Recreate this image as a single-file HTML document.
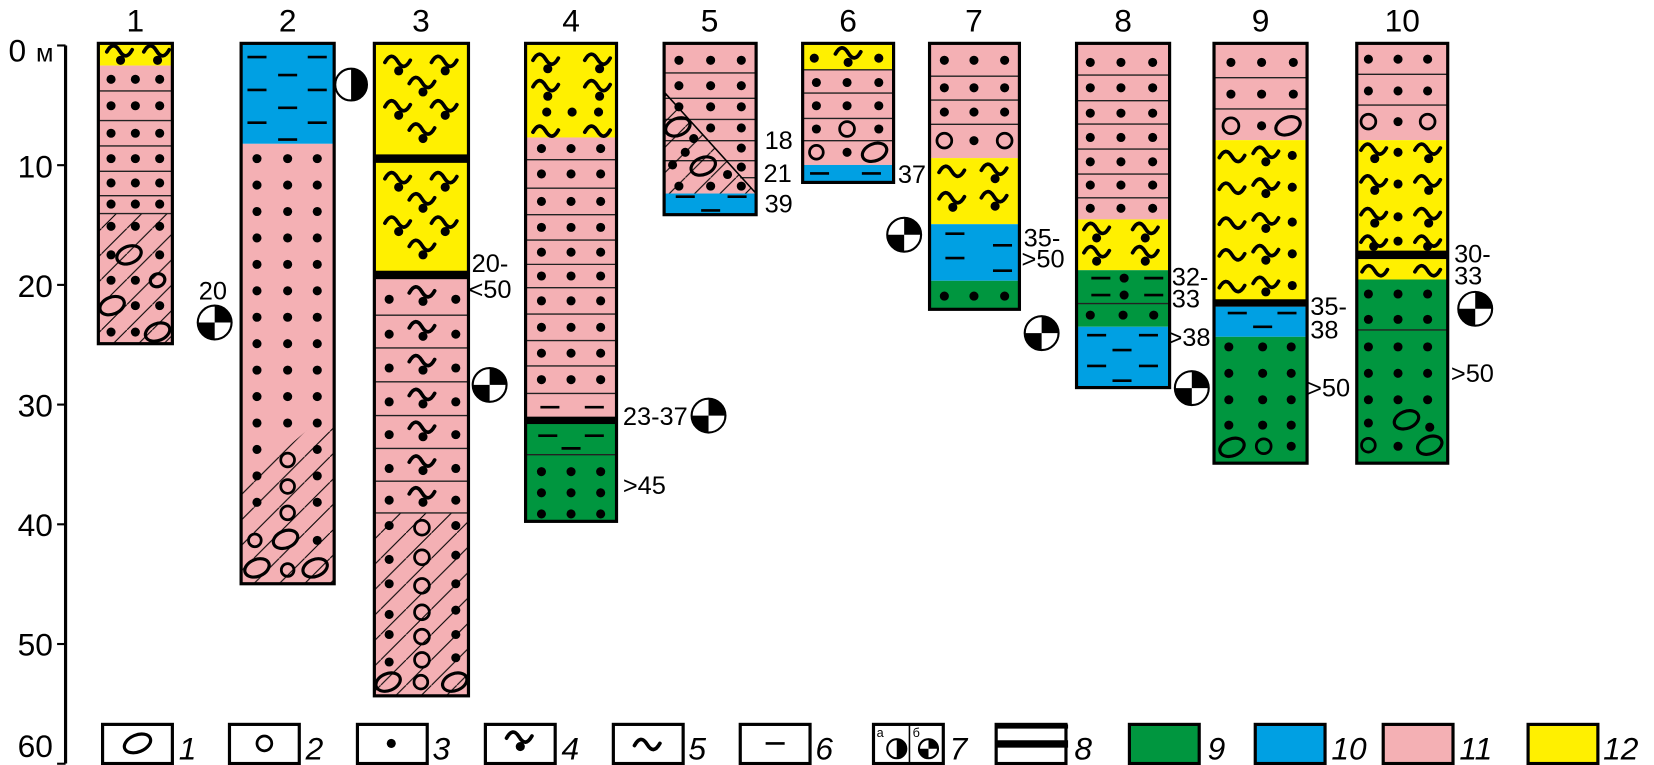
<!DOCTYPE html>
<html><head><meta charset="utf-8"><style>
html,body{margin:0;padding:0;background:#fff;width:1654px;height:765px;overflow:hidden}
svg{display:block}
text{font-family:"Liberation Sans",sans-serif;fill:#000}
</style></head><body>
<svg width="1654" height="765" viewBox="0 0 1654 765" xmlns="http://www.w3.org/2000/svg">
<defs>
<pattern id="h" patternUnits="userSpaceOnUse" width="24" height="24"><line x1="-2" y1="26" x2="26" y2="-2" stroke="#000" stroke-width="1"/></pattern>
</defs>
<g transform="scale(1.0575)">
<g id="g"></g>
<g font-size="30">
<text x="128" y="30" text-anchor="middle">1</text>
<text x="272" y="30" text-anchor="middle">2</text>
<text x="398" y="30" text-anchor="middle">3</text>
<text x="540" y="30" text-anchor="middle">4</text>
<text x="671" y="30" text-anchor="middle">5</text>
<text x="802" y="30" text-anchor="middle">6</text>
<text x="921" y="30" text-anchor="middle">7</text>
<text x="1062" y="30" text-anchor="middle">8</text>
<text x="1192" y="30" text-anchor="middle">9</text>
<text x="1326" y="30" text-anchor="middle">10</text>
<text x="8" y="58">0</text><text x="34" y="58" font-size="24">м</text>
<text x="50" y="168" text-anchor="end">10</text>
<text x="50" y="281" text-anchor="end">20</text>
<text x="50" y="394" text-anchor="end">30</text>
<text x="50" y="507" text-anchor="end">40</text>
<text x="50" y="620" text-anchor="end">50</text>
<text x="50" y="716" text-anchor="end">60</text>
</g>
<g font-size="24">
<text x="188" y="283">20</text>
<text x="446" y="257">20-</text><text x="443" y="282">&lt;50</text>
<text x="589" y="402">23-37</text>
<text x="589" y="467">&gt;45</text>
<text x="723" y="141">18</text>
<text x="722" y="172">21</text>
<text x="723" y="201">39</text>
<text x="849" y="173">37</text>
<text x="968" y="233">35-</text><text x="966" y="253">&gt;50</text>
<text x="1108" y="270">32-</text><text x="1108" y="291">33</text>
<text x="1104" y="327">&gt;38</text>
<text x="1239" y="298">35-</text><text x="1239" y="320">38</text>
<text x="1236" y="375">&gt;50</text>
<text x="1375" y="248">30-</text><text x="1375" y="269">33</text>
<text x="1372" y="361">&gt;50</text>
</g>
<g font-size="30" font-style="italic">
<text x="169" y="718">1</text>
<text x="289" y="718">2</text>
<text x="409" y="718">3</text>
<text x="531" y="718">4</text>
<text x="651" y="718">5</text>
<text x="771" y="718">6</text>
<text x="898" y="718">7</text>
<text x="1016" y="718">8</text>
<text x="1142" y="718">9</text>
<text x="1259" y="718">10</text>
<text x="1380" y="718">11</text>
<text x="1516" y="718">12</text>
</g>
<g font-size="12"><text x="829" y="697">а</text><text x="863" y="697">б</text></g>
</g>
</svg>
<script>
var S=[];function a(s){S.push(s)}
var P="#f4b0b4",Y="#fff000",B="#00a0e3",G="#00963f";
function R(x,y,w,h,f){a('<rect x="'+x+'" y="'+y+'" width="'+w+'" height="'+h+'" fill="'+f+'"/>')}
function BX(x,y,w,h){a('<rect x="'+x+'" y="'+y+'" width="'+w+'" height="'+h+'" fill="none" stroke="#000" stroke-width="3"/>')}
function HL(x1,x2,y){a('<line x1="'+x1+'" y1="'+y+'" x2="'+x2+'" y2="'+y+'" stroke="#222" stroke-width="1.3"/>')}
function D(x,y){a('<circle cx="'+x+'" cy="'+y+'" r="4.3" fill="#000"/>')}
function T(x,y){a('<path d="M'+(x-12)+','+(y+3)+' q6,-11 12,-1 t12,-1" fill="none" stroke="#000" stroke-width="3.5" stroke-linecap="round"/>')}
function TD(x,y){T(x,y);D(x+1,y+11)}
function DA(x,y){a('<line x1="'+(x-9)+'" y1="'+y+'" x2="'+(x+9)+'" y2="'+y+'" stroke="#000" stroke-width="2.5"/>')}
function O(x,y,rx,ry){rx=rx||12;ry=ry||8;a('<ellipse cx="'+x+'" cy="'+y+'" rx="'+rx+'" ry="'+ry+'" transform="rotate(-22 '+x+' '+y+')" fill="none" stroke="#000" stroke-width="3"/>')}
function C(x,y,r){a('<circle cx="'+x+'" cy="'+y+'" r="'+(r||7)+'" fill="none" stroke="#000" stroke-width="2.6"/>')}
function HP(pts){a('<polygon points="'+pts+'" fill="url(#h)"/>')}
function BK(x,y,w,h){a('<rect x="'+x+'" y="'+y+'" width="'+w+'" height="'+h+'" fill="#000"/>')}
function CK(cx,cy,r){a('<circle cx="'+cx+'" cy="'+cy+'" r="'+r+'" fill="#fff" stroke="#000" stroke-width="2"/>');
a('<path d="M'+cx+','+cy+' L'+cx+','+(cy-r)+' A'+r+','+r+' 0 0 1 '+(cx+r)+','+cy+' Z" fill="#000"/>');
a('<path d="M'+cx+','+cy+' L'+cx+','+(cy+r)+' A'+r+','+r+' 0 0 1 '+(cx-r)+','+cy+' Z" fill="#000"/>')}
function HC(cx,cy,r){a('<circle cx="'+cx+'" cy="'+cy+'" r="'+r+'" fill="#fff" stroke="#000" stroke-width="2"/>');
a('<path d="M'+cx+','+(cy-r)+' A'+r+','+r+' 0 0 1 '+cx+','+(cy+r)+' Z" fill="#000"/>')}
function row(xs,y){xs.forEach(function(x){D(x,y)})}

a('<line x1="62" y1="43" x2="62" y2="722" stroke="#000" stroke-width="3"/>');
for(var m=0;m<=60;m+=10){var yy=43+m*11.32;a('<line x1="54" y1="'+yy+'" x2="62" y2="'+yy+'" stroke="#000" stroke-width="2"/>')}

// C1
R(93,41,70,21,Y);R(93,62,70,263,P);HP("93,202 163,202 163,325 93,325");
[86,114,138,162,185,202].forEach(function(y){HL(93,163,y)});
[75,100,126,150,173,193].forEach(function(y){row([105,128,151],y)});
row([105,128,151],214);row([105,151],241);O(122,241);row([105,128],265);O(149,265,7,6);
row([128,151],289);O(106,289);row([105,128],314);O(149,314);
TD(113,46);TD(148,46);
BX(93,41,70,284);

// C2
var x2=[243,272,300];
R(228,41,88,95,B);R(228,136,88,416,P);HP("228,552 228,460 316,385 316,552");
[[54,[243,300]],[71,[272]],[85,[243,300]],[102,[272]],[116,[243,300]],[132,[272]]].forEach(function(r){r[1].forEach(function(x){DA(x,r[0])})});
for(var k=0;k<14;k++){var y=150+25*k;if(y>=425){D(243,y);D(300,y);C(272,y+10,6.5)}else row(x2,y)}
C(241,511,6);O(270,510);D(300,511);O(243,537);C(272,539,6);O(298,537);
BX(228,41,88,511);

// C3
R(354,41,89,108,Y);R(354,153,89,105,Y);R(354,262,89,396,P);BK(354,146,89,8);BK(354,256,89,8);
HP("354,485 443,485 443,658 354,658");
[298,329,361,393,424,455,485].forEach(function(y){HL(354,443,y)});
[0,110].forEach(function(o){TD(376,56+o);TD(420,56+o);TD(399,76+o);TD(376,98+o);TD(420,98+o);TD(399,120+o)});
[280,313,345,377,408,440,470].forEach(function(y){D(368,y+3);D(431,y+3);T(399,y-6);D(400,y+5)});
[497,525,552,577,600,622].forEach(function(y,i){D(368,y+(i%2?4:0));D(431,y);C(399,y+2,7)});
O(367,645);C(398,645,6.5);O(430,645);
BX(354,41,89,617);

// C4
var x4=[512,540,568];
R(497,41,86,89,Y);R(497,130,86,268,P);R(497,398,86,95,G);BK(497,394,86,7);
[151,178,203,227,250,272,297,322,346,372].forEach(function(y){HL(497,583,y)});HL(497,583,430);
var rr=[130,151,178,203,227,250,272,297,322,346,372];
for(var i=0;i<rr.length-1;i++)row(x4,(rr[i]+rr[i+1])/2);
DA(520,385);DA(562,385);DA(518,412);DA(562,412);DA(540,424);
row(x4,446);row(x4,466);row(x4,486);
T(516,54);D(518,65);T(565,54);D(567,65);T(516,79);D(518,91);T(565,79);D(567,91);row([517,541,566],106);T(516,122);T(565,122);
BX(497,41,86,452);

// C5
R(628,41,87,142,P);R(628,183,87,20,B);
[69,93,113,133,152].forEach(function(y){HL(628,715,y)});HL(700,715,168);
HP("628,87 715,183 628,183");
a('<line x1="628" y1="87" x2="715" y2="183" stroke="#000" stroke-width="1.5"/>');
row([642,672,701],57);row([642,672,701],81);row([642,672,701],101);
O(641,120);D(672,121);D(701,121);D(656,131);D(701,140);D(648,144);D(636,156);O(665,157);D(701,158);D(688,165);
row([642,672,701],176);
DA(648,186);DA(697,186);DA(672,199);
BX(628,41,87,162);

// C6
R(759,41,86,25,Y);R(759,66,86,90,P);R(759,156,86,16.5,B);
[66,88,112,133].forEach(function(y){HL(759,845,y)});
D(770,55);T(802,48);D(802,59);D(831,55);
row([772,801,831],78);row([772,801,831],100);D(772,122);C(801,122,7);D(831,122);C(772,144,6.5);D(801,144);O(827,144);
DA(775,164);DA(824,164);
BX(759,41,86,131.5);

// C7
var x7=[893,921,950];
R(879,41,85,108.5,P);R(879,149.5,85,62.5,Y);R(879,212,85,53.5,B);R(879,265.5,85,27,G);
[72,94.6,117.6].forEach(function(y){HL(879,964,y)});
row(x7,57);row(x7,83);row(x7,106);C(893,133,7);D(921,133);C(950,133,7);
T(900,160);TD(900,185);TD(940,158);TD(940,184);
DA(903,221);DA(948,232);DA(903,244);DA(948,256);
row(x7,280);
BX(879,41,85,251.5);

// C8
var x8=[1031,1060,1090];
R(1018,41,88,166.5,P);R(1018,207.5,88,48,Y);R(1018,255.5,88,53.5,G);R(1018,309,88,57.5,B);
[71,95.2,117.3,141,164.6,187].forEach(function(y){HL(1018,1106,y)});HL(1018,1106,287);
[59,83,107,130,153,175,197].forEach(function(y){row(x8,y)});
T(1037,214);D(1037,225);T(1083,214);D(1083,225);T(1037,236);D(1037,247);T(1083,236);D(1083,247);
[263,279].forEach(function(y){DA(1041,y);DA(1091,y);D(1063,y)});
row([1031,1062,1091],298);
DA(1037,317);DA(1086,317);DA(1061,331);DA(1037,346);DA(1086,346);DA(1061,360);
BX(1018,41,88,325.5);

// C9
R(1148,41,88,91.5,P);R(1148,132.5,88,152,Y);R(1148,290,88,28.5,B);R(1148,318.5,88,119.5,G);BK(1148,283,88,7);
[73.5,103].forEach(function(y){HL(1148,1236,y)});
row([1164,1193,1223],59);row([1164,1193,1223],89);C(1164,119,7.5);D(1193,119);O(1218,119,12,8);
[146,176,209,239,269].forEach(function(r){T(1165,r);T(1197,r-4);D(1197,r+7);D(1222,r+1)});
DA(1170,296);DA(1217,296);DA(1194,309);
[328,353,378,402].forEach(function(y){row([1162,1194,1221],y)});
O(1165,423);C(1195,422,7);D(1221,422);
BX(1148,41,88,397);

// C10
R(1283,41,86,91.5,P);R(1283,132.5,86,105.5,Y);R(1283,245,86,19.3,Y);R(1283,264.3,86,173.7,G);BK(1283,237,86,8);
[70.3,99.3].forEach(function(y){HL(1283,1369,y)});HL(1283,1369,312);
row([1294,1322,1350],56);row([1294,1322,1350],86);C(1294,115,7);D(1322,115);C(1350,115,7);
[139,169,200].forEach(function(r){TD(1299,r);TD(1350,r);D(1322,r+5)});T(1299,226);T(1350,226);D(1322,228);D(1299,233);D(1350,233);
T(1300,254);T(1350,254);
row([1294,1322,1350],278);row([1294,1322,1350],302);
[328,353,378].forEach(function(y){row([1294,1322,1350],y)});D(1294,400);O(1330,397);D(1352,404);
C(1294,421,6.5);D(1322,422);O(1352,421);
BX(1283,41,86,397);

CK(203,305,16);HC(332,80,15);CK(463,364,16);CK(670,393,16);CK(855,222,16);CK(985,315,16);CK(1127,367,16);CK(1395,292,16);

// legend
var lx=[97,217,338,459,580,700,826,942,1068,1187,1308,1445];
var fills=["#fff","#fff","#fff","#fff","#fff","#fff","#fff","#fff",G,B,P,Y];
lx.forEach(function(x,i){R(x,685,66,37,fills[i])});
O(130,703,13,8);C(250,703,7);D(370,703);TD(491,695);T(612,702);DA(733,703);
a('<line x1="860" y1="685" x2="860" y2="722" stroke="#000" stroke-width="1.5"/>');
HC(848,708,9);CK(878,708,9);
BK(942,700,68,7);BK(942,685,68,4);
lx.forEach(function(x){BX(x,685,66,37)});

document.getElementById('g').innerHTML=S.join('');
</script>
</body></html>
